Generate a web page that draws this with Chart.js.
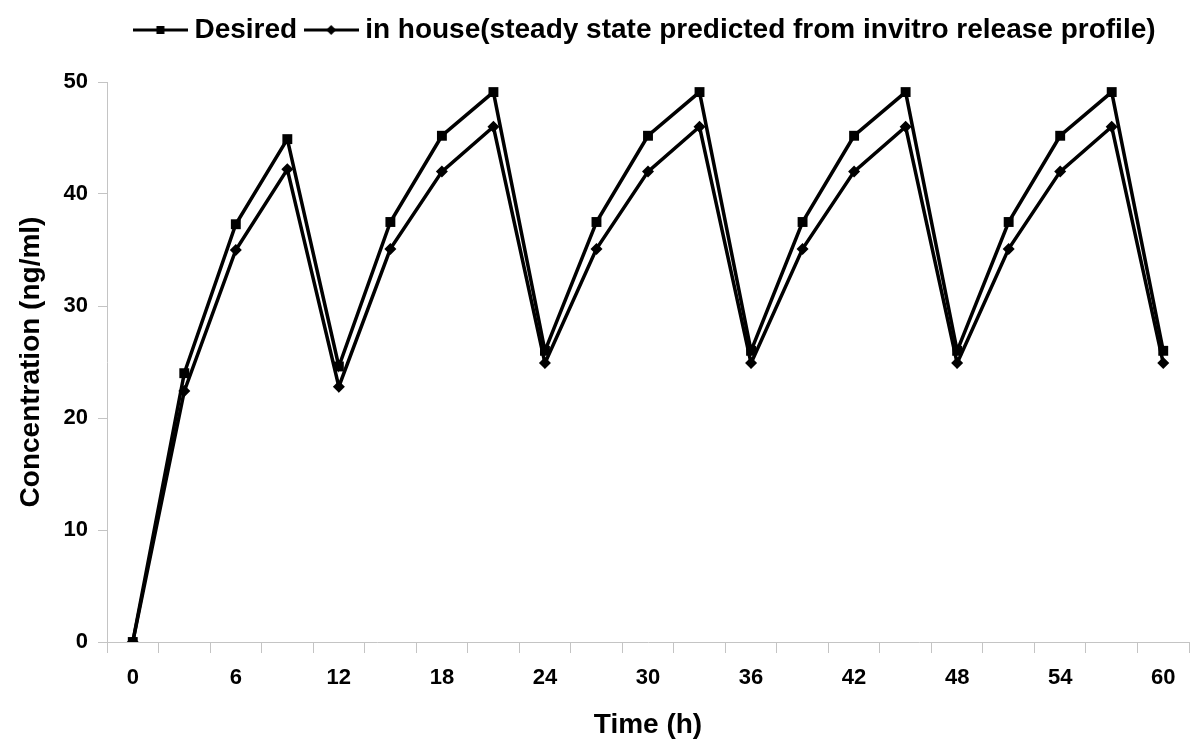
<!DOCTYPE html>
<html>
<head>
<meta charset="utf-8">
<script src="https://cdn.jsdelivr.net/npm/chart.js@4"></script>
<style>
  html, body { margin: 0; padding: 0; background: #fff; }
  #wrap { width: 1200px; height: 752px; }
</style>
</head>
<body>
<div id="wrap"><canvas id="chart"></canvas></div>
<script>
const hours = ["0", "3", "6", "9", "12", "15", "18", "21", "24", "27", "30",
               "33", "36", "39", "42", "45", "48", "51", "54", "57", "60"];
const desired = [0, 24.0, 37.3, 44.9, 24.6, 37.5, 45.2, 49.1, 26.0, 37.5, 45.2,
                 49.1, 26.0, 37.5, 45.2, 49.1, 26.0, 37.5, 45.2, 49.1, 26.0];
const inHouse = [0, 22.4, 35.0, 42.2, 22.8, 35.1, 42.0, 46.0, 24.9, 35.1, 42.0,
                 46.0, 24.9, 35.1, 42.0, 46.0, 24.9, 35.1, 42.0, 46.0, 24.9];
const yTicks = [0, 10, 20, 30, 40, 50];

const FONT = "'Liberation Sans', Arial, sans-serif";
const AXIS_GRAY = "#c4c4c4";

// legend sample: line with the marker in the middle
function legendSample(kind) {
  const c = document.createElement("canvas");
  c.width = 55;
  c.height = 14;
  const ctx = c.getContext("2d");
  ctx.strokeStyle = "#000";
  ctx.lineWidth = 3;
  ctx.beginPath();
  ctx.moveTo(0, 7);
  ctx.lineTo(55, 7);
  ctx.stroke();
  ctx.fillStyle = "#000";
  ctx.beginPath();
  if (kind === "square") {
    ctx.rect(23.5, 3, 8, 8);
  } else {
    ctx.moveTo(27.5, 2);
    ctx.lineTo(32.5, 7);
    ctx.lineTo(27.5, 12);
    ctx.lineTo(22.5, 7);
    ctx.closePath();
  }
  ctx.fill();
  return c;
}
const samples = [legendSample("square"), legendSample("diamond")];

// extra room under the legend
const legendGap = {
  id: "legendGap",
  beforeInit(chart) {
    const fit = chart.legend.fit;
    chart.legend.fit = function () {
      fit.call(this);
      this.height += 28;
    };
  },
};

new Chart(document.getElementById("chart"), {
  type: "line",
  data: {
    labels: hours,
    datasets: [
      {
        label: "Desired",
        data: desired,
        borderColor: "#000",
        backgroundColor: "#000",
        borderWidth: 3.5,
        pointStyle: "rect",
        pointRadius: 7,
        pointBorderWidth: 0,
        tension: 0,
      },
      {
        label: "in house(steady state predicted from invitro release profile)",
        data: inHouse,
        borderColor: "#000",
        backgroundColor: "#000",
        borderWidth: 3.5,
        pointStyle: "rectRot",
        pointRadius: 6,
        pointBorderWidth: 0,
        tension: 0,
      },
    ],
  },
  options: {
    responsive: true,
    maintainAspectRatio: false,
    animation: false,
    layout: { padding: { left: 10, right: 11, top: 2, bottom: 6 } },
    plugins: {
      tooltip: { enabled: false },
      legend: {
        position: "top",
        align: "center",
        fullSize: false,
        labels: {
          usePointStyle: true,
          pointStyleWidth: 40,
          padding: 14,
          color: "#000",
          font: { family: FONT, size: 28, weight: "bold" },
          generateLabels(chart) {
            const items = Chart.defaults.plugins.legend.labels.generateLabels(chart);
            items.forEach((it, i) => { it.pointStyle = samples[i]; });
            return items;
          },
        },
      },
    },
    scales: {
      x: {
        type: "category",
        offset: true,
        grid: {
          offset: true,
          drawOnChartArea: false,
          color: AXIS_GRAY,
          tickLength: 11,
        },
        border: { color: AXIS_GRAY, width: 1 },
        ticks: {
          autoSkip: false,
          maxRotation: 0,
          padding: 12,
          color: "#000",
          font: { family: FONT, size: 22, weight: "bold" },
          callback: function (val, i) { return i % 2 === 0 ? hours[i] : ""; },
        },
        title: {
          display: true,
          text: "Time (h)",
          color: "#000",
          font: { family: FONT, size: 28, weight: "bold" },
        },
        afterFit(scale) { scale.height = 104; },
      },
      y: {
        min: 0,
        max: 50,
        afterBuildTicks(scale) { scale.ticks = yTicks.map((v) => ({ value: v })); },
        grid: {
          drawOnChartArea: false,
          color: AXIS_GRAY,
          tickLength: 9,
        },
        border: { color: AXIS_GRAY, width: 1 },
        ticks: {
          padding: 10,
          color: "#000",
          font: { family: FONT, size: 22, weight: "bold" },
        },
        title: {
          display: true,
          text: "Concentration (ng/ml)",
          color: "#000",
          font: { family: FONT, size: 28, weight: "bold" },
        },
        afterFit(scale) { scale.width = 97; },
      },
    },
  },
  plugins: [legendGap],
});
</script>
</body>
</html>
